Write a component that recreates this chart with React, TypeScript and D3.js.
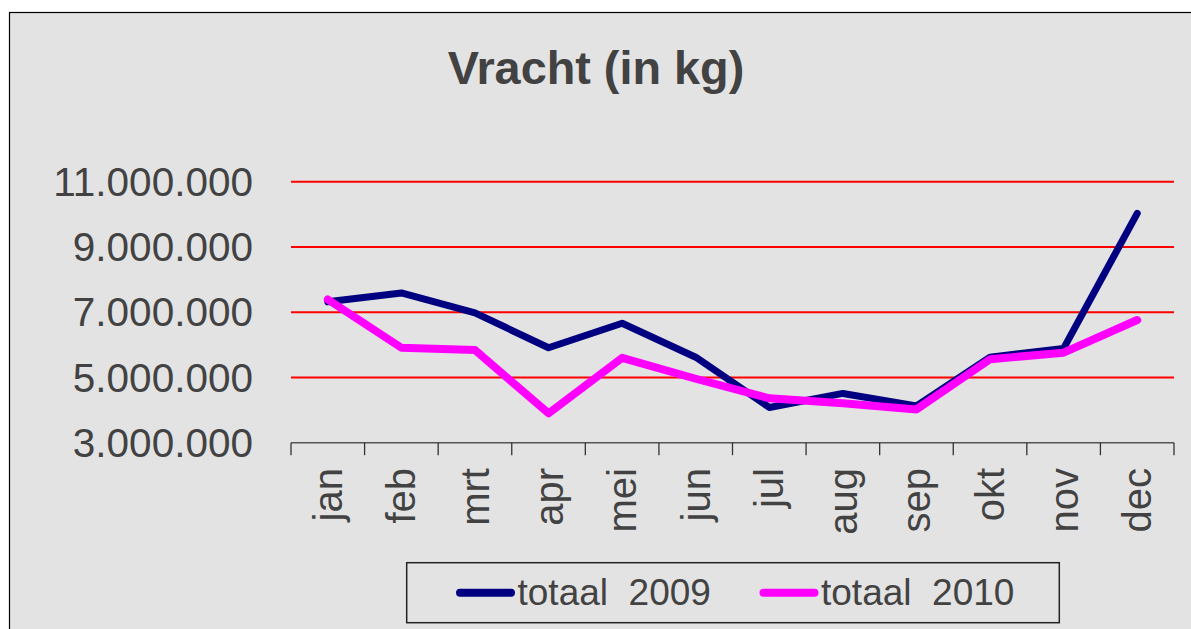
import React from "react";
import * as d3 from "d3";

const months = ["jan", "feb", "mrt", "apr", "mei", "jun", "jul", "aug", "sep", "okt", "nov", "dec"];
const totaal2009 = [7320000, 7590000, 6980000, 5910000, 6660000, 5620000, 4080000, 4510000, 4130000, 5620000, 5890000, 10030000];
const totaal2010 = [7390000, 5910000, 5840000, 3900000, 5600000, 4960000, 4360000, 4210000, 4020000, 5560000, 5760000, 6760000];
const yTicks = [3000000, 5000000, 7000000, 9000000, 11000000];
const seriesNames = ["totaal  2009", "totaal  2010"];
const seriesColors = ["#000080", "#ff00ff"];

const W = 1191;
const H = 629;
const plotLeft = 291;
const plotRight = 1174;
const plotTop = 181.7;
const plotBottom = 442.7;

const fmt = (v: number) => d3.format(",")(v).replace(/,/g, ".");

export default function App() {
  const x = d3.scaleBand<string>().domain(months).range([plotLeft, plotRight]);
  const y = d3.scaleLinear().domain([3000000, 11000000]).range([plotBottom, plotTop]);
  const line = d3
    .line<number>()
    .x((_, i) => (x(months[i]) as number) + x.bandwidth() / 2)
    .y((d) => y(d));
  const series = [totaal2009, totaal2010];
  const widths = [7, 8];
  const textColor = "#424242";
  const font = "'Liberation Sans', Arial, sans-serif";
  const boundaries = d3.range(months.length + 1).map((i) => plotLeft + i * x.step());

  return (
    <svg width={W} height={H} style={{ position: "absolute", left: 0, top: 0 }} fontFamily={font}>
      <rect x={0} y={0} width={W} height={H} fill="#ffffff" />
      <rect x={9.5} y={12.5} width={1300} height={800} fill="#e3e3e3" stroke="#000" strokeWidth={1.2} />
      <text x={596} y={83.5} textAnchor="middle" fontSize={46.8} fontWeight="bold" fill={textColor}>
        Vracht (in kg)
      </text>
      {yTicks.slice(1).map((t) => (
        <line key={"g" + t} x1={plotLeft} x2={plotRight} y1={y(t)} y2={y(t)} stroke="#ff0000" strokeWidth={2} />
      ))}
      {yTicks.map((t) => (
        <text key={"yl" + t} x={253} y={y(t)} dy="0.35em" textAnchor="end" fontSize={40.5} fill={textColor}>
          {fmt(t)}
        </text>
      ))}
      <line x1={plotLeft} x2={plotRight} y1={plotBottom} y2={plotBottom} stroke="#555" strokeWidth={1.5} />
      {boundaries.map((bx, i) => (
        <line key={"t" + i} x1={bx} x2={bx} y1={plotBottom} y2={plotBottom + 12.5} stroke="#333" strokeWidth={1.3} />
      ))}
      {months.map((m) => {
        const cx = (x(m) as number) + x.bandwidth() / 2;
        return (
          <text
            key={m}
            transform={`translate(${cx},468) rotate(-90)`}
            textAnchor="end"
            dy="0.35em"
            fontSize={40}
            fill={textColor}
          >
            {m}
          </text>
        );
      })}
      {series.map((s, i) => (
        <path
          key={"s" + i}
          d={line(s) as string}
          fill="none"
          stroke={seriesColors[i]}
          strokeWidth={widths[i]}
          strokeLinejoin="round"
          strokeLinecap="round"
        />
      ))}
      <rect x={406.7} y={562.7} width={652.6} height={60} fill="none" stroke="#222" strokeWidth={1.5} />
      {seriesNames.map((n, i) => {
        const lx = i === 0 ? 460 : 763.5;
        return (
          <g key={n}>
            <line x1={lx} x2={lx + 51} y1={592.7} y2={592.7} stroke={seriesColors[i]} strokeWidth={8} strokeLinecap="round" />
            <text x={lx + 57.5} y={605} fontSize={37} fill={textColor} style={{ whiteSpace: "pre" }}>
              {n}
            </text>
          </g>
        );
      })}
    </svg>
  );
}
